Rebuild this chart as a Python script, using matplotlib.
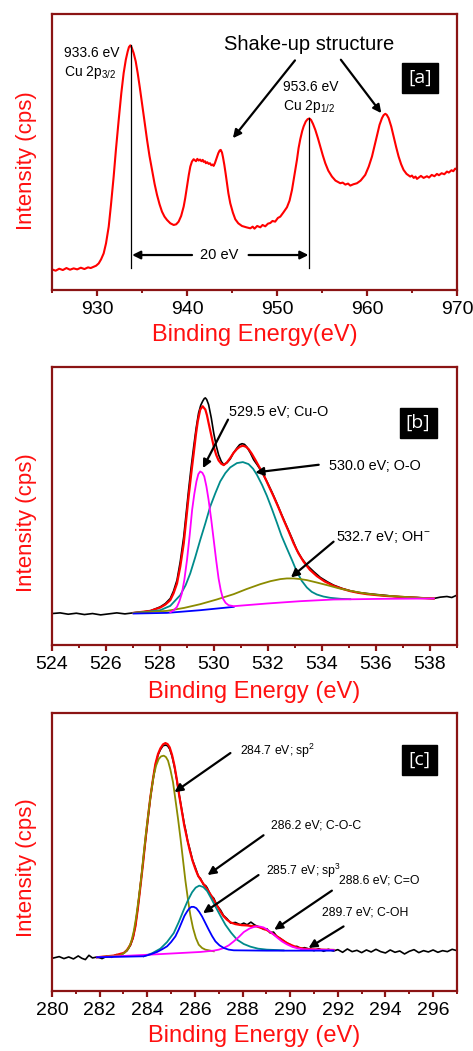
import matplotlib
matplotlib.use("Agg")
import matplotlib.pyplot as plt

plt.rcParams['font.family'] = ['Liberation Sans', 'DejaVu Sans']
plt.rcParams['mathtext.fontset'] = 'custom'
plt.rcParams['mathtext.rm'] = 'Liberation Sans'
plt.rcParams['mathtext.it'] = 'Liberation Sans'

# ---------------- Panel [a]: Cu 2p ----------------
a_energy = [925.0, 925.4, 925.8, 926.2, 926.6, 927.0, 927.4, 927.8, 928.2, 928.6, 929.0, 929.3,
            929.63, 929.9, 930.19, 930.45, 930.74, 931.0, 931.30, 931.55, 931.85, 932.1, 932.41,
            932.7, 932.96, 933.2, 933.41, 933.55, 933.70, 933.85, 934.07, 934.3, 934.52, 934.75,
            935.00, 935.28, 935.56, 935.83, 936.11, 936.4, 936.67, 936.95, 937.22, 937.5, 937.78,
            938.15, 938.52, 938.8, 939.07, 939.35, 939.63, 939.8, 940.00, 940.2, 940.37, 940.55,
            940.74, 941.0, 941.15, 941.30, 941.45, 941.6, 941.75, 941.85, 942.0, 942.1, 942.25,
            942.41, 942.55, 942.7, 942.85, 942.96, 943.1, 943.2, 943.33, 943.48, 943.63, 943.75,
            943.89, 944.0, 944.15, 944.3, 944.44, 944.6, 944.81, 945.1, 945.37, 945.7, 946.11,
            946.6, 947.04, 947.3, 947.5, 947.8, 948.15, 948.4, 948.7, 949.0, 949.26, 949.5,
            949.8, 950.1, 950.37, 950.7, 951.11, 951.4, 951.67, 951.95, 952.22, 952.4, 952.59,
            952.8, 952.96, 953.2, 953.41, 953.6, 953.78, 954.0, 954.26, 954.55, 954.81, 955.1,
            955.37, 955.7, 956.11, 956.5, 957.04, 957.3, 957.6, 957.9, 958.15, 958.5, 958.89,
            959.3, 959.81, 960.2, 960.56, 960.85, 961.11, 961.4, 961.67, 961.85, 962.04, 962.2,
            962.41, 962.7, 962.96, 963.25, 963.52, 963.8, 964.07, 964.4, 964.81, 965.0, 965.2,
            965.4, 965.56, 965.8, 966.0, 966.3, 966.67, 966.9, 967.2, 967.5, 967.78, 968.0,
            968.3, 968.6, 968.89, 969.1, 969.4, 969.6, 969.81, 970.0]
a_counts = [62, 58, 64, 60, 66, 61, 65, 62, 67, 63, 68, 66,
            70, 73, 80, 92, 110, 140, 190, 255, 340, 420, 510,
            590, 650, 690, 715, 728, 733, 727, 710, 685, 650, 608,
            560, 505, 450, 402, 360, 318, 285, 257, 235, 220, 210,
            200, 195, 197, 205, 222, 250, 275, 310, 345, 370, 385,
            392, 386, 393, 388, 391, 386, 390, 384, 386, 380, 383,
            378, 380, 374, 376, 372, 380, 388, 398, 410, 418, 420,
            412, 398, 375, 348, 320, 290, 260, 232, 212, 200, 192,
            188, 185, 190, 184, 192, 188, 195, 191, 199, 201, 207,
            205, 216, 220, 232, 248, 268, 300, 345, 390, 425, 452,
            476, 490, 505, 512, 514, 510, 498, 480, 455, 430, 403,
            380, 358, 340, 328, 320, 322, 316, 319, 313, 317, 320,
            328, 345, 370, 400, 432, 462, 495, 515, 524, 528, 525,
            515, 490, 460, 428, 400, 377, 360, 348, 340, 343, 336,
            340, 333, 338, 342, 336, 341, 337, 345, 341, 348, 344,
            350, 347, 355, 352, 359, 356, 364, 361]

# ---------------- Panel [b]: O 1s ----------------
b_raw_energy = [524.0, 524.3, 524.6, 524.9, 525.2, 525.5, 525.8, 526.1, 526.4, 526.7, 527.0,
                527.3, 527.64, 528.01, 528.2, 528.38, 528.5, 528.63, 528.75, 528.88, 528.97,
                529.06, 529.15, 529.25, 529.34, 529.43, 529.51, 529.58, 529.64, 529.68, 529.73,
                529.80, 529.9, 529.99, 530.08, 530.17, 530.27, 530.36, 530.48, 530.60, 530.72,
                530.85, 530.95, 531.04, 531.13, 531.22, 531.35, 531.47, 531.6, 531.72, 531.84,
                531.96, 532.15, 532.33, 532.5, 532.70, 532.9, 533.07, 533.25, 533.44, 533.7,
                533.94, 534.2, 534.43, 534.75, 535.05, 535.35, 535.67, 536.0, 536.28, 536.6,
                536.90, 537.2, 537.52, 537.8, 538.14, 538.38, 538.63, 538.81, 539.0]
b_raw_counts = [95, 97, 93, 96, 92, 95, 91, 94, 97, 94, 97,
                99, 103, 115, 125, 140, 162, 195, 250, 325, 395,
                465, 530, 595, 650, 695, 718, 730, 738, 740, 735,
                720, 680, 635, 598, 570, 550, 540, 546, 557, 575,
                590, 600, 603, 601, 593, 575, 555, 540, 525, 508,
                490, 458, 425, 392, 355, 318, 285, 260, 240, 220,
                203, 190, 180, 170, 163, 158, 155, 152, 150, 147,
                145, 144, 143, 141, 140, 144, 146, 143, 150]

b_fit_energy = [527.02, 527.64, 528.01, 528.2, 528.38, 528.5, 528.63, 528.75, 528.88, 528.97,
                529.06, 529.16, 529.25, 529.33, 529.40, 529.49, 529.58, 529.68, 529.74, 529.80,
                529.9, 529.99, 530.08, 530.17, 530.27, 530.36, 530.48, 530.60, 530.72, 530.85,
                530.96, 531.07, 531.18, 531.28, 531.4, 531.53, 531.68, 531.84, 532.02, 532.21,
                532.4, 532.58, 532.77, 532.95, 533.13, 533.32, 533.55, 533.81, 534.1, 534.43,
                534.75, 535.05, 535.35, 535.67, 536.3, 536.90, 537.5, 538.14]
b_fit_counts = [97, 103, 113, 122, 135, 155, 185, 235, 305, 375,
                445, 515, 575, 630, 670, 705, 715, 705, 688, 665,
                628, 595, 570, 553, 543, 539, 547, 560, 575, 587,
                594, 597, 594, 587, 573, 555, 533, 510, 478, 445,
                410, 375, 340, 305, 275, 250, 226, 207, 191, 178,
                169, 162, 157, 153, 148, 145, 142, 140]

b_oo_energy = [527.02, 527.5, 528.01, 528.38, 528.75, 528.95, 529.12, 529.3, 529.49, 529.68,
               529.86, 530.05, 530.23, 530.42, 530.60, 530.85, 531.07, 531.28, 531.45, 531.59,
               531.78, 531.96, 532.15, 532.33, 532.5, 532.70, 532.9, 533.07, 533.25, 533.44,
               533.62, 533.81, 534.05, 534.31, 534.7, 535.05]
b_oo_counts = [97, 100, 105, 118, 150, 180, 215, 262, 315, 365,
               415, 455, 490, 515, 532, 545, 548, 542, 528, 510,
               480, 447, 407, 367, 328, 290, 253, 220, 193, 173,
               160, 152, 146, 142, 139, 138]

b_cuo_energy = [528.38, 528.5, 528.63, 528.72, 528.81, 528.9, 529.00, 529.1, 529.19, 529.27,
                529.35, 529.42, 529.49, 529.57, 529.64, 529.72, 529.80, 529.9, 529.99, 530.08,
                530.17, 530.25, 530.33, 530.43, 530.54, 530.73, 531.96, 533.20, 534.43, 536.28,
                538.14]
b_cuo_counts = [99, 104, 115, 132, 155, 195, 255, 330, 405, 452,
                490, 512, 520, 516, 505, 475, 435, 375, 315, 255,
                200, 165, 140, 127, 120, 117, 125, 132, 137, 139,
                140]

b_base_energy = [527.02, 528.26, 529.49, 530.73]
b_base_counts = [95, 97, 105, 115]

b_oh_energy = [527.02, 527.64, 528.26, 528.9, 529.49, 530.1, 530.73, 531.2, 531.72, 532.1,
               532.46, 532.7, 532.95, 533.2, 533.44, 533.8, 534.19, 534.6, 535.05, 535.6,
               536.28, 537.2, 538.14]
b_oh_counts = [97, 100, 103, 112, 123, 137, 153, 168, 183, 192,
               198, 200, 200, 198, 195, 188, 180, 171, 163, 155,
               149, 144, 140]

# ---------------- Panel [c]: C 1s ----------------
c_raw_energy = [280.07, 280.3, 280.5, 280.7, 280.9, 281.1, 281.25, 281.4, 281.55, 281.7, 281.9,
                282.1, 282.3, 282.5, 282.7, 282.85, 283.0, 283.15, 283.29, 283.4, 283.5, 283.6,
                283.71, 283.82, 283.92, 284.03, 284.13, 284.24, 284.34, 284.45, 284.55, 284.66,
                284.76, 284.85, 284.94, 285.04, 285.14, 285.24, 285.34, 285.45, 285.55, 285.62,
                285.7, 285.78, 285.9, 286.02, 286.15, 286.23, 286.35, 286.45, 286.51, 286.65,
                286.79, 286.93, 287.07, 287.2, 287.35, 287.5, 287.7, 287.9, 288.05, 288.19,
                288.35, 288.5, 288.6, 288.75, 288.9, 289.02, 289.15, 289.3, 289.44, 289.6,
                289.75, 289.86, 290.0, 290.15, 290.28, 290.45, 290.6, 290.84, 291.0, 291.2, 291.4,
                291.6, 291.82, 292.0, 292.2, 292.4, 292.6, 292.8, 293.0, 293.2, 293.4, 293.6,
                293.8, 294.0, 294.2, 294.4, 294.6, 294.8, 295.0, 295.2, 295.4, 295.6, 295.8,
                296.0, 296.2, 296.4, 296.6, 296.8, 297.0]
c_raw_counts = [100, 104, 98, 103, 97, 106, 99, 95, 108, 100, 103,
                98, 105, 102, 110, 106, 114, 122, 138, 160, 197, 250,
                318, 388, 452, 522, 583, 638, 680, 712, 728, 740,
                742, 740, 730, 708, 676, 636, 592, 546, 505, 482,
                450, 430, 395, 372, 345, 340, 322, 318, 312, 290,
                280, 258, 245, 228, 218, 205, 207, 200, 205, 200,
                208, 200, 196, 192, 186, 188, 176, 178, 165, 158,
                150, 145, 140, 133, 135, 128, 131, 126, 122, 128, 120,
                126, 121, 125, 117, 127, 119, 123, 116, 124, 118, 126,
                119, 115, 124, 117, 121, 112, 120, 125, 116, 122, 118,
                124, 117, 122, 119, 126, 122]

c_fit_energy = [281.89, 282.59, 283.01, 283.15, 283.29, 283.4, 283.50, 283.6, 283.71, 283.82,
                283.92, 284.03, 284.13, 284.24, 284.34, 284.45, 284.55, 284.66, 284.76, 284.85,
                284.94, 285.04, 285.14, 285.24, 285.34, 285.45, 285.55, 285.67, 285.78, 285.9,
                286.02, 286.12, 286.23, 286.37, 286.51, 286.65, 286.79, 286.93, 287.07, 287.2,
                287.35, 287.5, 287.70, 287.95, 288.19, 288.4, 288.60, 288.8, 289.02, 289.23,
                289.44, 289.65, 289.86, 290.07, 290.28, 290.55, 290.84, 291.3, 291.82]
c_fit_counts = [102, 107, 115, 124, 140, 162, 195, 248, 315, 385,
                455, 525, 585, 640, 685, 715, 732, 744, 748, 745,
                735, 712, 680, 638, 590, 543, 500, 460, 425, 393,
                368, 350, 337, 322, 308, 292, 275, 257, 240, 226,
                215, 207, 202, 199, 198, 196, 195, 190, 184, 175,
                165, 155, 145, 138, 132, 128, 126, 125, 124]

c_sp2_energy = [281.89, 282.87, 283.05, 283.22, 283.33, 283.43, 283.53, 283.64, 283.75, 283.85,
                283.95, 284.06, 284.16, 284.27, 284.37, 284.48, 284.58, 284.69, 284.78, 284.87,
                284.97, 285.08, 285.18, 285.29, 285.4, 285.50, 285.6, 285.71, 285.81, 285.92,
                286.04, 286.16, 286.3, 286.44, 286.79]
c_sp2_counts = [102, 108, 116, 130, 150, 180, 222, 280, 345, 415,
                480, 545, 600, 650, 680, 700, 708, 710, 706, 695,
                668, 630, 578, 520, 457, 395, 333, 275, 228, 190,
                160, 140, 130, 125, 120]

c_sp3_energy = [281.89, 283.85, 284.1, 284.41, 284.62, 284.83, 285.0, 285.18, 285.32, 285.46,
                285.56, 285.67, 285.76, 285.85, 285.95, 286.06, 286.18, 286.30, 286.44, 286.58,
                286.72, 286.86, 287.03, 287.21, 287.42, 287.63, 289.02, 291.82]
c_sp3_counts = [102, 105, 110, 118, 126, 135, 148, 165, 186, 210,
                227, 240, 249, 254, 254, 250, 239, 225, 205, 185,
                166, 150, 138, 130, 125, 123, 122, 122]

c_coc_energy = [283.85, 284.2, 284.55, 284.83, 285.11, 285.32, 285.53, 285.7, 285.88, 286.03,
                286.18, 286.35, 286.51, 286.68, 286.86, 287.07, 287.28, 287.52, 287.77, 288.05,
                288.33, 288.65, 289.02, 289.72]
c_coc_counts = [105, 114, 128, 148, 175, 208, 245, 273, 298, 312,
                318, 314, 302, 280, 255, 227, 200, 176, 155, 142,
                134, 128, 125, 123]

c_co_energy = [281.89, 284.13, 286.23, 286.79, 287.0, 287.21, 287.42, 287.63, 287.84, 288.05,
               288.3, 288.54, 288.7, 288.88, 289.05, 289.23, 289.44, 289.65, 289.86, 290.07,
               290.3, 290.56, 291.0, 291.82]
c_co_counts = [102, 110, 118, 122, 125, 130, 138, 150, 163, 178,
               189, 195, 195, 192, 185, 175, 162, 150, 141, 134,
               129, 126, 125, 124]

# ---------------- Figure ----------------
SPINE = '#8B1414'
RED_TXT = '#FF1010'
fig = plt.figure(figsize=(4.73, 10.51), dpi=100)
L, W = 0.110, 0.856
axa = fig.add_axes([L, 0.724, W, 0.263])
axb = fig.add_axes([L, 0.386, W, 0.265])
axc = fig.add_axes([L, 0.057, W, 0.265])


def style(ax, xlim, ylim, major, minor, xlabel, xpad, ylab_y):
    ax.set_xlim(*xlim)
    ax.set_ylim(*ylim)
    ax.set_yticks([])
    ax.set_xticks(major)
    ax.set_xticks(minor, minor=True)
    for s in ax.spines.values():
        s.set_color(SPINE)
        s.set_linewidth(1.6)
    ax.tick_params(axis='x', which='major', direction='out', length=4, width=1.6,
                   color=SPINE, labelsize=14, pad=4)
    ax.tick_params(axis='x', which='minor', direction='out', length=2.5, width=1.4,
                   color=SPINE)
    ax.set_xlabel(xlabel, color=RED_TXT, fontsize=17, labelpad=xpad)
    ax.set_ylabel('Intensity (cps)', color=RED_TXT, fontsize=16)
    ax.yaxis.set_label_coords(-0.036, ylab_y)


def tag(ax, x, y, s):
    ax.text(x, y, s, color='white', fontsize=14, ha='center', va='center',
            family=['Open Sans', 'DejaVu Sans'],
            bbox=dict(boxstyle='square,pad=0.32', fc='black', ec='black'))


def arrow(ax, x0, y0, x1, y1):
    ax.annotate('', xy=(x1, y1), xytext=(x0, y0),
                arrowprops=dict(arrowstyle='-|>', color='black', lw=1.6,
                                mutation_scale=12, shrinkA=0, shrinkB=0))


# Panel a
axa.plot(a_energy, a_counts, color='#FF0000', lw=1.5)
style(axa, (925, 970), (0, 828), [930, 940, 950, 960, 970], [925, 935, 945, 955, 965],
      'Binding Energy(eV)', 4, 0.467)
axa.plot([933.8, 933.8], [65, 733], color='black', lw=0.9)
axa.plot([953.6, 953.6], [65, 515], color='black', lw=0.9)
arrow(axa, 940.56, 105, 933.9, 105)
arrow(axa, 946.85, 105, 953.5, 105)
axa.text(943.6, 105, '20 eV', fontsize=10.5, ha='center', va='center')
axa.text(926.3, 710, '933.6 eV', fontsize=10, ha='left', va='center')
axa.text(926.3, 652, r'Cu 2p$_{3/2}$', fontsize=10, ha='left', va='center')
axa.text(950.7, 608, '953.6 eV', fontsize=10, ha='left', va='center')
axa.text(950.7, 550, r'Cu 2p$_{1/2}$', fontsize=10, ha='left', va='center')
axa.text(953.6, 735, 'Shake-up structure', fontsize=14.5, ha='center', va='center')
arrow(axa, 952.0, 688, 945.1, 455)
arrow(axa, 957.1, 690, 961.6, 530)
tag(axa, 965.9, 635, '[a]')

# Panel b
axb.plot(b_raw_energy, b_raw_counts, color='black', lw=1.2)
axb.plot(b_fit_energy, b_fit_counts, color='#FF0000', lw=1.6)
axb.plot(b_oo_energy, b_oo_counts, color='#008B8B', lw=1.3)
axb.plot(b_oh_energy, b_oh_counts, color='#8B8B00', lw=1.3)
axb.plot(b_base_energy, b_base_counts, color='#0000FF', lw=1.3)
axb.plot(b_cuo_energy, b_cuo_counts, color='#FF00FF', lw=1.3)
style(axb, (524, 539), (0, 833), list(range(524, 539, 2)), list(range(525, 540, 2)),
      'Binding Energy (eV)', 5.5, 0.442)
axb.text(530.54, 697, '529.5 eV; Cu-O', fontsize=10.4, ha='left', va='center')
arrow(axb, 530.52, 675, 529.59, 530)
axb.text(534.25, 537, '530.0 eV; O-O', fontsize=10.4, ha='left', va='center')
arrow(axb, 533.88, 540, 531.53, 517)
axb.text(534.53, 325, r'532.7 eV; OH$^{-}$', fontsize=10.4, ha='left', va='center')
arrow(axb, 534.43, 310, 532.85, 203)
tag(axb, 537.56, 665, '[b]')

# Panel c
axc.plot(c_raw_energy, c_raw_counts, color='black', lw=1.2)
axc.plot(c_fit_energy, c_fit_counts, color='#FF0000', lw=1.6)
axc.plot(c_sp2_energy, c_sp2_counts, color='#8B8B00', lw=1.3)
axc.plot(c_coc_energy, c_coc_counts, color='#008B8B', lw=1.3)
axc.plot(c_co_energy, c_co_counts, color='#FF00FF', lw=1.3)
axc.plot(c_sp3_energy, c_sp3_counts, color='#0000FF', lw=1.3)
style(axc, (280, 297), (0, 840), list(range(280, 297, 2)), list(range(281, 298, 2)),
      'Binding Energy (eV)', 4, 0.443)
axc.text(287.88, 725, r'284.7 eV; sp$^2$', fontsize=8.8, ha='left', va='center')
arrow(axc, 287.49, 718, 285.14, 600)
axc.text(289.19, 500, '286.2 eV; C-O-C', fontsize=8.8, ha='left', va='center')
arrow(axc, 288.88, 470, 286.53, 350)
axc.text(288.98, 363, r'285.7 eV; sp$^3$', fontsize=8.8, ha='left', va='center')
arrow(axc, 288.67, 350, 286.34, 235)
axc.text(292.03, 333, '288.6 eV; C=O', fontsize=8.8, ha='left', va='center')
arrow(axc, 291.75, 303, 289.33, 185)
axc.text(291.33, 238, '289.7 eV; C-OH', fontsize=8.8, ha='left', va='center')
arrow(axc, 292.24, 195, 290.77, 130)
tag(axc, 295.43, 697, '[c]')

fig.savefig('out.png', dpi=100)
